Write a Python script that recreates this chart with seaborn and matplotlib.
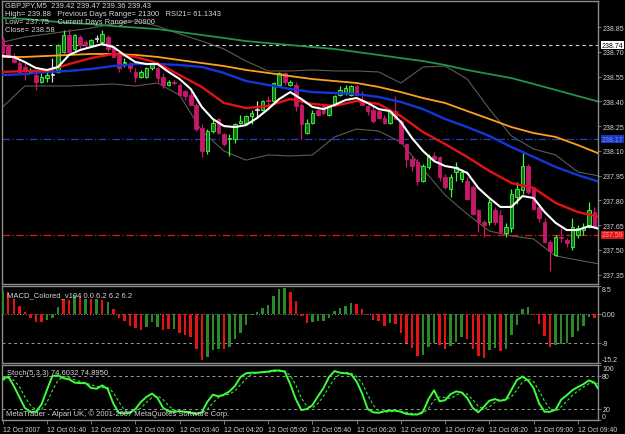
import matplotlib
matplotlib.use("Agg")
import matplotlib.pyplot as plt
import matplotlib.transforms as mtransforms
import numpy as np
import pandas as pd
import seaborn as sns

# GBPJPY M5 candles, 12 Oct 2007 01:00 .. 09:55
opens = [238.78, 238.74, 238.67, 238.63, 238.61, 238.58, 238.56, 238.52, 238.54, 238.56,
         238.58, 238.70, 238.80, 238.72, 238.79, 238.76, 238.74, 238.78, 238.76, 238.79,
         238.73, 238.69, 238.63, 238.62, 238.58, 238.55, 238.55, 238.60, 238.60, 238.55,
         238.50, 238.52, 238.50, 238.46, 238.44, 238.38, 238.24, 238.10, 238.22, 238.29,
         238.20, 238.17, 238.17, 238.27, 238.27, 238.31, 238.35, 238.35, 238.41, 238.40,
         238.50, 238.57, 238.50, 238.50, 238.38, 238.21, 238.27, 238.35, 238.37, 238.32,
         238.38, 238.44, 238.45, 238.44, 238.49, 238.41, 238.37, 238.35, 238.34, 238.30,
         238.27, 238.34, 238.28, 238.14, 238.05, 238.03, 237.92, 238.00, 238.07, 238.06,
         237.94, 237.87, 237.97, 237.93, 237.92, 237.88, 237.74, 237.67, 237.67, 237.74,
         237.71, 237.60, 237.63, 237.82, 237.86, 238.01, 237.87, 237.76, 237.67, 237.55,
         237.47, 237.58, 237.56, 237.52, 237.59, 237.62, 237.64, 237.73, 237.63]
highs = [238.79, 238.75, 238.69, 238.65, 238.63, 238.60, 238.57, 238.57, 238.58, 238.66,
         238.75, 238.83, 238.84, 238.81, 238.80, 238.77, 238.78, 238.80, 238.83, 238.80,
         238.74, 238.70, 238.66, 238.64, 238.60, 238.59, 238.61, 238.64, 238.61, 238.57,
         238.53, 238.53, 238.51, 238.47, 238.46, 238.39, 238.26, 238.23, 238.29, 238.30,
         238.21, 238.20, 238.27, 238.32, 238.32, 238.35, 238.40, 238.41, 238.43, 238.52,
         238.58, 238.58, 238.53, 238.52, 238.39, 238.29, 238.35, 238.37, 238.38, 238.38,
         238.44, 238.49, 238.50, 238.50, 238.50, 238.46, 238.38, 238.37, 238.35, 238.32,
         238.35, 238.43, 238.29, 238.15, 238.07, 238.05, 238.02, 238.08, 238.09, 238.07,
         237.96, 237.96, 238.03, 237.99, 237.94, 237.89, 237.75, 237.68, 237.81, 237.76,
         237.74, 237.66, 237.87, 237.91, 238.09, 238.02, 237.88, 237.77, 237.69, 237.56,
         237.59, 237.63, 237.57, 237.69, 237.65, 237.66, 237.79, 237.76, 237.65]
lows = [238.67, 238.67, 238.63, 238.58, 238.53, 238.57, 238.47, 238.51, 238.52, 238.52,
        238.57, 238.69, 238.69, 238.70, 238.72, 238.73, 238.73, 238.76, 238.75, 238.70,
        238.67, 238.58, 238.61, 238.58, 238.52, 238.54, 238.54, 238.59, 238.52, 238.48,
        238.49, 238.50, 238.44, 238.41, 238.38, 238.22, 238.06, 238.08, 238.21, 238.20,
        238.13, 238.07, 238.15, 238.26, 238.26, 238.26, 238.30, 238.34, 238.38, 238.39,
        238.49, 238.50, 238.49, 238.34, 238.17, 238.20, 238.26, 238.31, 238.32, 238.31,
        238.37, 238.43, 238.44, 238.43, 238.43, 238.37, 238.32, 238.27, 238.29, 238.26,
        238.26, 238.29, 238.14, 238.00, 237.98, 237.89, 237.91, 237.99, 238.04, 237.92,
        237.87, 237.82, 237.92, 237.91, 237.80, 237.71, 237.61, 237.58, 237.65, 237.65,
        237.60, 237.58, 237.61, 237.78, 237.84, 237.84, 237.74, 237.67, 237.54, 237.37,
        237.46, 237.55, 237.52, 237.50, 237.57, 237.59, 237.63, 237.63, 237.52]
closes = [238.69, 238.68, 238.64, 238.58, 238.59, 238.59, 238.52, 238.55, 238.56, 238.56,
          238.74, 238.80, 238.70, 238.80, 238.74, 238.74, 238.77, 238.78, 238.81, 238.72,
          238.67, 238.60, 238.64, 238.60, 238.55, 238.58, 238.60, 238.63, 238.54, 238.50,
          238.52, 238.51, 238.44, 238.43, 238.38, 238.23, 238.10, 238.22, 238.27, 238.21,
          238.14, 238.18, 238.26, 238.28, 238.31, 238.33, 238.35, 238.40, 238.40, 238.51,
          238.57, 238.52, 238.52, 238.37, 238.26, 238.27, 238.33, 238.32, 238.33, 238.37,
          238.43, 238.47, 238.48, 238.49, 238.44, 238.38, 238.34, 238.28, 238.30, 238.27,
          238.34, 238.29, 238.15, 238.05, 238.01, 237.92, 238.01, 238.07, 238.05, 237.94,
          237.88, 237.94, 238.00, 237.97, 237.81, 237.72, 237.67, 237.65, 237.79, 237.67,
          237.61, 237.64, 237.84, 237.87, 238.01, 237.85, 237.75, 237.69, 237.55, 237.49,
          237.58, 237.57, 237.54, 237.64, 237.63, 237.64, 237.74, 237.64, 237.55]

# moving averages / bands, read every 4th bar
ma_bars = [0, 4, 8, 12, 16, 20, 24, 28, 32, 36, 40, 44, 48, 52,
           56, 60, 64, 68, 72, 76, 80, 84, 88, 92, 96, 100, 104, 108]
ma_green = [238.905, 238.899, 238.887, 238.875, 238.868, 238.856, 238.847, 238.838, 238.820, 238.802,
            238.784, 238.765, 238.753, 238.741, 238.729, 238.717, 238.699, 238.681, 238.662, 238.644,
            238.620, 238.590, 238.565, 238.541, 238.505, 238.469, 238.432, 238.396]
ma_orange = [238.669, 238.669, 238.675, 238.681, 238.687, 238.687, 238.681, 238.669, 238.650, 238.632,
             238.614, 238.590, 238.572, 238.553, 238.535, 238.523, 238.511, 238.487, 238.456, 238.420,
             238.390, 238.341, 238.293, 238.244, 238.208, 238.184, 238.135, 238.081]
ma_blue = [238.559, 238.565, 238.578, 238.584, 238.596, 238.614, 238.626, 238.626, 238.620, 238.608,
           238.572, 238.523, 238.499, 238.475, 238.456, 238.450, 238.444, 238.426, 238.396, 238.353,
           238.293, 238.244, 238.190, 238.123, 238.063, 238.002, 237.953, 237.911]
ma_red = [238.578, 238.584, 238.584, 238.626, 238.662, 238.687, 238.669, 238.632, 238.559, 238.487,
          238.390, 238.359, 238.372, 238.414, 238.384, 238.372, 238.402, 238.384, 238.311, 238.214,
          238.141, 238.063, 237.978, 237.905, 237.875, 237.784, 237.729, 237.699]
band_upper = [238.759, 238.790, 238.808, 238.826, 238.844, 238.869, 238.887, 238.856, 238.808, 238.765,
              238.717, 238.644, 238.584, 238.584, 238.590, 238.584, 238.584, 238.578, 238.511, 238.608,
              238.614, 238.535, 238.353, 238.190, 238.111, 238.075, 237.972, 237.947]
band_lower = [238.366, 238.493, 238.493, 238.493, 238.499, 238.505, 238.493, 238.511, 238.438, 238.220,
              238.099, 238.044, 238.075, 238.069, 238.075, 238.184, 238.232, 238.220, 238.153, 237.990,
              237.832, 237.717, 237.614, 237.584, 237.566, 237.463, 237.438, 237.414]

# fast (white) average, read every 2nd bar
white_bars = list(range(0, 109, 2))
ma_white = [238.675, 238.669, 238.638, 238.602, 238.590, 238.608, 238.681, 238.711, 238.729, 238.747,
            238.729, 238.681, 238.638, 238.626, 238.626, 238.578, 238.535, 238.475, 238.366, 238.293,
            238.250, 238.244, 238.256, 238.299, 238.353, 238.414, 238.456, 238.414, 238.366, 238.353,
            238.378, 238.408, 238.420, 238.390, 238.353, 238.341, 238.275, 238.178, 238.099, 238.038,
            238.008, 237.996, 237.966, 237.875, 237.814, 237.760, 237.760, 237.826, 237.814, 237.729,
            237.663, 237.620, 237.620, 237.644, 237.626]

# MACD_Colored histogram
macd = [7.0, 6.6, 4.4, 2.3, 0.4, -1.2, -2.6, -2.7, -1.9, -1.2,
        1.9, 4.4, 4.3, 5.7, 5.1, 4.6, 4.6, 4.6, 4.2, 3.6,
        1.3, -1.5, -2.4, -3.8, -4.5, -5.0, -4.0, -2.7, -4.0, -5.0,
        -4.8, -4.8, -6.1, -6.6, -7.1, -10.8, -14.3, -13.2, -11.3, -10.8,
        -10.8, -10.3, -7.7, -6.1, -3.5, -0.3, 0.4, 1.8, 2.5, 5.5,
        7.5, 7.8, 6.7, 3.9, -0.8, -2.9, -2.7, -2.4, -2.2, -1.4,
        0.7, 1.8, 2.3, 3.4, 3.0, 1.5, -0.3, -1.9, -2.4, -3.8,
        -2.9, -3.1, -5.9, -9.0, -10.6, -12.9, -12.7, -10.3, -9.0, -9.7,
        -10.8, -10.1, -8.7, -7.1, -7.7, -10.8, -12.9, -13.6, -11.3, -10.6,
        -11.6, -10.8, -6.6, -3.5, 1.5, 2.1, -0.5, -3.1, -6.9, -10.3,
        -9.7, -9.2, -9.0, -7.1, -5.3, -3.8, -1.0, -1.4, -2.7]
macd_up = "GRRRRRRRGG" "GRRGRGRGRG" "RRRRRRGGGR" "RGRRRRRGGG" "RGGGGGGGGG" \
          "GGRRRRGGGG" "GGGGRRRRRR" "GRRRRRGGGR" "RGGGRRRRGG" "RGGGGGRRRR" "GGGGGGGRR"

# Stochastic(5,3,3): main and signal
stoch_main = [75, 79, 62, 42, 22, 15, 15, 28, 55, 80,
              81, 76, 74, 68, 67, 67, 58, 57, 63, 56,
              30, 13, 12, 13, 20, 33, 42, 48, 40, 22,
              16, 15, 16, 15, 13, 11, 14, 33, 46, 43,
              46, 52, 62, 78, 85, 86, 86, 87, 88, 90,
              90, 88, 65, 38, 18, 20, 27, 43, 58, 78,
              89, 86, 85, 83, 70, 48, 20, 14, 13, 16,
              17, 17, 15, 11, 10, 10, 15, 38, 54, 34,
              36, 47, 52, 50, 40, 22, 14, 24, 35, 38,
              35, 37, 55, 73, 79, 72, 58, 30, 15, 15,
              19, 37, 45, 54, 60, 65, 72, 68, 52]
stoch_signal = [72, 76, 72, 61, 42, 27, 18, 19, 32, 54,
                72, 79, 77, 73, 70, 67, 64, 61, 59, 59,
                50, 33, 18, 13, 15, 22, 32, 41, 44, 37,
                26, 18, 16, 15, 15, 13, 13, 19, 31, 41,
                45, 47, 53, 64, 75, 83, 86, 87, 87, 88,
                89, 89, 81, 64, 40, 25, 22, 30, 43, 60,
                75, 84, 87, 85, 79, 67, 46, 27, 16, 14,
                15, 17, 16, 14, 12, 10, 12, 21, 36, 42,
                41, 39, 45, 50, 47, 37, 25, 20, 24, 32,
                36, 37, 42, 55, 69, 75, 70, 53, 34, 20,
                16, 24, 34, 45, 53, 60, 66, 68, 64]

tick_bars = [0, 8, 16, 24, 32, 40, 48, 56, 64, 72, 80, 88, 96, 104]
tick_labels = ["12 Oct 2007", "12 Oct 01:40", "12 Oct 02:20", "12 Oct 03:00", "12 Oct 03:40",
               "12 Oct 04:20", "12 Oct 05:00", "12 Oct 05:40", "12 Oct 06:20", "12 Oct 07:00",
               "12 Oct 07:40", "12 Oct 08:20", "12 Oct 09:00", "12 Oct 09:40"]
price_ticks = [238.85, 238.70, 238.55, 238.40, 238.25, 238.10, 237.95, 237.80, 237.65, 237.50, 237.35]

sns.set_theme(style="dark")
plt.rcParams["font.family"] = ["Liberation Sans", "DejaVu Sans"]

BG = "#000000"
FRAME = "#8c8c8c"
TXT = "#d4d4d4"
BULL_FACE, BULL_EDGE = "#1c6e1c", "#3cff3c"
BEAR = "#c8186a"
FS = 5.0

fig = plt.figure(figsize=(6.25, 4.35), dpi=100, facecolor=BG)
W, H = 625.0, 435.0
ax = fig.add_axes([2 / W, 1 - 285 / H, 596 / W, 283 / H])
ax_m = fig.add_axes([2 / W, 1 - 364 / H, 596 / W, 77 / H], sharex=ax)
ax_s = fig.add_axes([2 / W, 1 - 421 / H, 596 / W, 55 / H], sharex=ax)

for a in (ax, ax_m, ax_s):
    a.set_facecolor(BG)
    a.grid(False)
    for sp in a.spines.values():
        sp.set_color(FRAME)
        sp.set_linewidth(1.0)
    a.yaxis.tick_right()
    a.tick_params(axis="y", direction="out", length=2, width=0.6, color=FRAME,
                  labelsize=FS, labelcolor=TXT, pad=1)
    a.tick_params(axis="x", bottom=False, labelbottom=False)

# ---- main pane: candles ----
df = pd.DataFrame({"open": opens, "high": highs, "low": lows, "close": closes})
df["bar"] = np.arange(len(df))
df["bottom"] = df[["open", "close"]].min(axis=1)
df["body"] = (df["close"] - df["open"]).abs().clip(lower=0.004)
kind = np.sign(df["close"] - df["open"])
edge = np.where(kind > 0, BULL_EDGE, np.where(kind < 0, BEAR, "#d8d8d8"))
face = np.where(kind > 0, BULL_FACE, np.where(kind < 0, BEAR, "#d8d8d8"))

# bands under the candles
sns.lineplot(x=ma_bars, y=band_upper, ax=ax, color="#5c5c50", lw=0.8, zorder=1)
sns.lineplot(x=ma_bars, y=band_lower, ax=ax, color="#5c5c50", lw=0.8, zorder=1)
ax.vlines(df["bar"], df["low"], df["high"], colors=edge, lw=0.9, zorder=2)
ax.bar(df["bar"], df["body"], bottom=df["bottom"], width=0.64, color=face,
       edgecolor=edge, linewidth=0.6, zorder=3)

sns.lineplot(x=ma_bars, y=ma_green, ax=ax, color="#22944a", lw=1.3, zorder=4)
sns.lineplot(x=ma_bars, y=ma_orange, ax=ax, color="#ffa020", lw=1.3, zorder=4)
sns.lineplot(x=ma_bars, y=ma_blue, ax=ax, color="#1436d8", lw=1.7, zorder=4)
sns.lineplot(x=ma_bars, y=ma_red, ax=ax, color="#e41212", lw=1.7, zorder=4)
sns.lineplot(x=white_bars, y=ma_white, ax=ax, color="#ffffff", lw=1.5, zorder=5)

ax.axhline(238.74, color="#d8d8d8", lw=0.8, ls=(0, (3, 3)), zorder=1)
ax.axhline(238.17, color="#2040c0", lw=0.9, ls=(0, (6, 2, 1, 2)), zorder=1)
ax.axhline(237.59, color="#e01818", lw=0.9, ls=(0, (6, 2, 1, 2)), zorder=1)

ax.set_xlim(-0.13, 107.65)
ax.set_ylim(237.293, 239.008)
ax.set_yticks(price_ticks)
ax.set_yticklabels([f"{p:.2f}" for p in price_ticks])

trans = mtransforms.blended_transform_factory(ax.transAxes, ax.transData)
for val, fc, tc in [(238.74, "#ffffff", "#000000"), (238.17, "#1838c0", "#7088ff"),
                    (237.59, "#e01818", "#ff9a9a")]:
    ax.text(1.006, val, f"{val:.2f}", transform=trans, ha="left", va="center",
            fontsize=FS, color=tc, zorder=6, clip_on=False,
            bbox=dict(boxstyle="square,pad=0.1", fc=fc, ec="none"))

header = ["GBPJPY,M5  239.42 239.47 239.36 239.43",
          "High= 239.88   Previous Days Range= 21300   RSI21= 61.1343",
          "Low= 237.75    Current Days Range= 20900",
          "Close= 238.58"]
for k, line in enumerate(header):
    fig.text(5 / W, 1 - (6 + 8 * k) / H, line, fontsize=5.5, color=TXT, va="center", ha="left")

# ---- MACD pane ----
macd_colors = ["#2a8a2a" if c == "G" else "#e41414" for c in macd_up]
ax_m.bar(np.arange(len(macd)), macd, width=0.45, color=macd_colors, linewidth=0, zorder=3)
ax_m.axhline(0, color="#9a9a9a", lw=0.7, ls=(0, (1, 2)), zorder=1)
ax_m.axhline(-9, color="#9a9a9a", lw=0.7, ls=(0, (3, 3)), zorder=1)
ax_m.set_ylim(-15.2, 8.5)
ax_m.set_yticks([8.5, 0, -9, -15.2])
ax_m.set_yticklabels(["8.5", "0.00", "-9", "-15.2"])
ml = ax_m.get_yticklabels()
ml[0].set_va("top")
ml[3].set_va("bottom")
ax_m.text(0.008, 0.93, "MACD_Colored_v104 0.0 6.2 6.2 6.2", transform=ax_m.transAxes,
          fontsize=5.5, color=TXT, va="top", ha="left")

# ---- Stochastic pane ----
sto_bars = np.arange(len(stoch_main))
sns.lineplot(x=sto_bars, y=stoch_signal, ax=ax_s, color="#32e632", lw=0.8,
             linestyle=(0, (2.5, 2)), zorder=3)
sns.lineplot(x=sto_bars, y=stoch_main, ax=ax_s, color="#3cff3c", lw=1.4, zorder=4)
ax_s.axhline(80, color="#9a9a9a", lw=0.7, ls=(0, (3, 3)), zorder=1)
ax_s.axhline(20, color="#9a9a9a", lw=0.7, ls=(0, (3, 3)), zorder=1)
ax_s.set_ylim(0, 100)
ax_s.set_yticks([100, 80, 20, 0])
ax_s.set_yticklabels(["100", "80", "20", "0"])
sl = ax_s.get_yticklabels()
sl[0].set_va("top")
sl[3].set_va("bottom")
ax_s.text(0.008, 0.93, "Stoch(5,3,3) 74.6032 74.8950", transform=ax_s.transAxes,
          fontsize=5.5, color=TXT, va="top", ha="left")
ax_s.text(0.006, 0.05, "MetaTrader - Alpari UK, \u00a9 2001-2007 MetaQuotes Software Corp.",
          transform=ax_s.transAxes, fontsize=5.5, color=TXT, va="bottom", ha="left", zorder=6)

ax_s.set_xticks(tick_bars)
ax_s.set_xticklabels(tick_labels)
ax_s.tick_params(axis="x", bottom=True, labelbottom=True, direction="out", length=3,
                 width=0.6, color=FRAME, labelsize=4.9, labelcolor=TXT, pad=1)
for t in ax_s.get_xticklabels():
    t.set_ha("left")
ax_s.set_xlim(-0.13, 107.65)
for a in (ax, ax_m, ax_s):
    a.set_xlabel("")
    a.set_ylabel("")

fig.savefig("out.png", dpi=100, facecolor=BG)
